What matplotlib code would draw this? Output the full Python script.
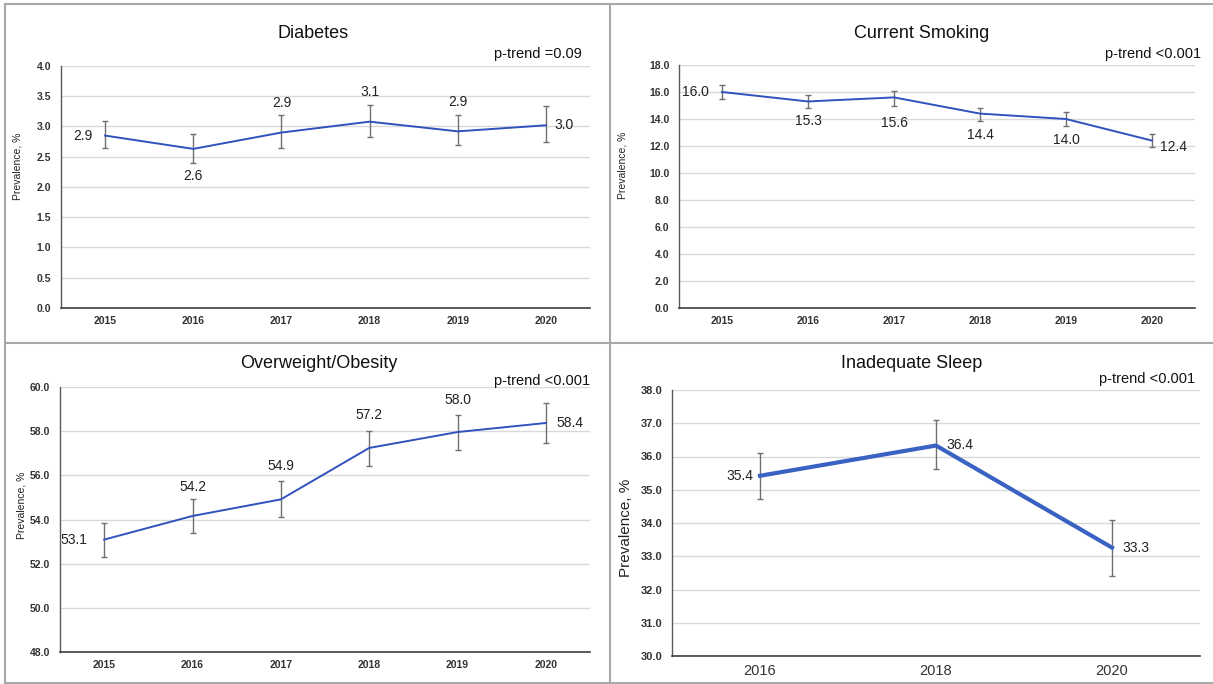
import matplotlib.pyplot as plt
from matplotlib.lines import Line2D

# ---- data ----
years6 = ["2015", "2016", "2017", "2018", "2019", "2020"]
years3 = ["2016", "2018", "2020"]

diab = [2.85, 2.63, 2.90, 3.08, 2.92, 3.02]
diab_lo = [2.64, 2.40, 2.65, 2.83, 2.69, 2.74]
diab_hi = [3.09, 2.87, 3.19, 3.35, 3.19, 3.34]
diab_lab = ["2.9", "2.6", "2.9", "3.1", "2.9", "3.0"]

smok = [16.0, 15.3, 15.6, 14.4, 14.0, 12.4]
smok_lo = [15.5, 14.8, 15.0, 13.85, 13.5, 11.9]
smok_hi = [16.5, 15.8, 16.1, 14.85, 14.5, 12.9]
smok_lab = ["16.0", "15.3", "15.6", "14.4", "14.0", "12.4"]

obes = [53.09, 54.16, 54.91, 57.24, 57.96, 58.37]
obes_lo = [52.30, 53.40, 54.11, 56.41, 57.13, 57.46]
obes_hi = [53.84, 54.91, 55.73, 58.02, 58.72, 59.29]
obes_lab = ["53.1", "54.2", "54.9", "57.2", "58.0", "58.4"]

sleep = [35.42, 36.33, 33.26]
sleep_lo = [34.72, 35.61, 32.42]
sleep_hi = [36.12, 37.09, 34.10]
sleep_lab = ["35.4", "36.4", "33.3"]

W, H = 1213, 684
fig = plt.figure(figsize=(W / 100, H / 100), dpi=100)
fig.patch.set_facecolor("white")

TICKFONT = ["Liberation Sans Narrow", "Liberation Sans", "DejaVu Sans"]
FONT = ["Liberation Sans", "DejaVu Sans"]


def px_axes(left, top, right, bottom):
    return fig.add_axes([left / W, 1 - bottom / H, (right - left) / W, (bottom - top) / H])


def ftext(x, y, s, **kw):
    fig.text(x / W, 1 - y / H, s, family=FONT, **kw)


# offsets in pixels (dx, dy) and alignment for each label placement
PLACE = {
    "left": (-13, 0, "right", "center"),
    "right": (8, 0, "left", "center"),
    "above": (0, 21, "center", "center"),
    "below": (0, -21, "center", "center"),
}


def panel(box, cats, vals, lo, hi, labs, places, ylim, step, title, title_xy,
          ptxt, pt_xy, ylab_xy, lw=1.4, color="#2f52bd", xfs=7.5, yfs=7.5, ylfs=7.5,
          xweight="bold", special=None):
    ax = px_axes(*box)
    x = list(range(len(cats)))
    yerr = [[v - l for v, l in zip(vals, lo)], [h - v for v, h in zip(vals, hi)]]
    ax.errorbar(x, vals, yerr=yerr, fmt="none", ecolor="#707070", elinewidth=1.0,
                capsize=2.5, capthick=1.0, zorder=3)
    ax.plot(x, vals, color=color, lw=lw, zorder=4, solid_joinstyle="miter")
    for i, (v, s) in enumerate(zip(vals, labs)):
        dx, dy, ha, va = PLACE[places[i]]
        if special and i in special:
            dx, dy = special[i]
        ax.annotate(s, (i, v), xytext=(dx * 0.72, dy * 0.72), textcoords="offset points",
                    ha=ha, va=va, fontsize=10, family=FONT, color="#222222", zorder=5)
    ax.set_xlim(-0.5, len(cats) - 0.5)
    ax.set_ylim(*ylim)
    ticks = []
    t = ylim[0]
    while t <= ylim[1] + 1e-9:
        ticks.append(t)
        t += step
    ax.set_yticks(ticks)
    ax.set_yticklabels([f"{t:.1f}" for t in ticks], family=TICKFONT, fontsize=yfs,
                       color="#333333", fontweight="bold")
    ax.set_xticks(x)
    ax.set_xticklabels(cats, family=TICKFONT, fontsize=xfs, color="#333333",
                       fontweight=xweight)
    ax.tick_params(length=0, pad=6)
    ax.tick_params(axis="y", pad=7)
    ax.grid(axis="y", color="#d9d9d9", lw=1.0)
    ax.set_axisbelow(True)
    for s in ["top", "right"]:
        ax.spines[s].set_visible(False)
    ax.spines["left"].set_color("#595959")
    ax.spines["bottom"].set_color("#404040")
    ax.spines["left"].set_linewidth(1.0)
    ax.spines["bottom"].set_linewidth(1.2)
    ftext(*title_xy, title, fontsize=13, ha="center", va="center", color="#111111")
    ftext(*pt_xy, ptxt, fontsize=10.5, ha="right", va="center", color="#111111")
    ftext(*ylab_xy, "Prevalence, %", fontsize=ylfs, ha="center", va="center",
          rotation=90, color="#222222")
    return ax


panel((61, 66, 590, 308), years6, diab, diab_lo, diab_hi, diab_lab,
      ["left", "below", "above", "above", "above", "right"], (0, 4.0), 0.5,
      "Diabetes", (313, 33), "p-trend =0.09", (582, 54), (17, 166),
      special={1: (0, -27), 2: (0, 30), 3: (0, 30), 4: (0, 29)})

panel((679, 65, 1195, 308), years6, smok, smok_lo, smok_hi, smok_lab,
      ["left", "below", "below", "below", "below", "right"], (0, 18.0), 2.0,
      "Current Smoking", (922, 33), "p-trend <0.001", (1201, 54), (622, 165),
      special={1: (0, -20), 2: (0, -26), 3: (0, -21), 4: (0, -21), 5: (8, -6)})

panel((60, 387, 590, 652), years6, obes, obes_lo, obes_hi, obes_lab,
      ["left", "above", "above", "above", "above", "right"], (48.0, 60.0), 2.0,
      "Overweight/Obesity", (319, 364), "p-trend <0.001", (590, 381), (22, 505),
      special={0: (-17, 0), 1: (0, 29), 2: (0, 33), 3: (0, 33), 4: (0, 32), 5: (11, 0)})

panel((672, 390, 1200, 656), years3, sleep, sleep_lo, sleep_hi, sleep_lab,
      ["left", "right", "right"], (30.0, 38.0), 1.0,
      "Inadequate Sleep", (912, 364), "p-trend <0.001", (1195, 379), (626, 528),
      lw=3.0, color="#3a62c2", xfs=10.5, yfs=8, ylfs=11, xweight="normal",
      special={0: (-7, 0), 1: (10, 1), 2: (10, 0)})

# panel frame lines
frame = dict(color="#a8a8a8", lw=1.5, transform=fig.transFigure)
for (x0, y0, x1, y1) in [(5, 4, W, 4), (5, 4, 5, H), (610, 4, 610, H),
                         (5, 343, W, 343), (5, H - 1, W, H - 1)]:
    fig.add_artist(Line2D([x0 / W, x1 / W], [1 - y0 / H, 1 - y1 / H], **frame))

fig.savefig("out.png", dpi=100)
